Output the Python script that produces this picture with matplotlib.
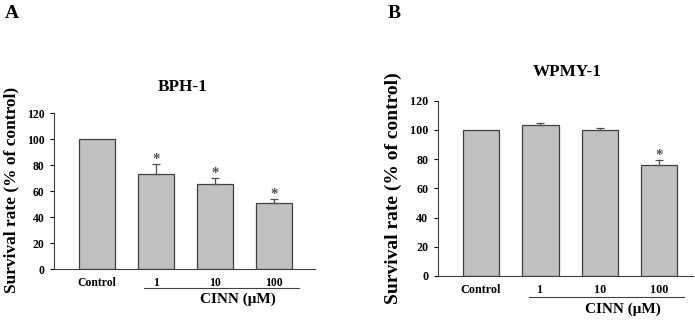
import matplotlib
matplotlib.use("Agg")
import matplotlib.pyplot as plt

plt.rcParams['font.family'] = ['Liberation Serif', 'DejaVu Serif']
plt.rcParams['font.weight'] = 'bold'

categories = ["Control", "1", "10", "100"]
bph_values = [100, 73.3, 65.6, 50.5]
bph_errors = [0, 7.5, 4.4, 3.5]
bph_sig = [False, True, True, True]
wpmy_values = [100, 103.6, 100.1, 76.2]
wpmy_errors = [0, 1.1, 1.4, 3.2]
wpmy_sig = [False, False, False, True]
yticks = [0, 20, 40, 60, 80, 100, 120]

fig = plt.figure(figsize=(6.95, 3.2), dpi=100)

def panel(rect, values, errors, sig, title, xlim, tfs, lab_fs, lab_x, title_xy, line_y, lab_y):
    ax = fig.add_axes(rect)
    x = list(range(len(categories)))
    ax.bar(x, values, width=0.61, color='#c0c0c0', edgecolor='#404040', linewidth=0.9, zorder=2)
    for xi, v, e, s in zip(x, values, errors, sig):
        if e > 0:
            ax.errorbar(xi, v, yerr=[[0], [e]], fmt='none', ecolor='#505050',
                        elinewidth=0.9, capsize=3, capthick=0.9, zorder=3)
        if s:
            ax.annotate('*', (xi, v + e), xytext=(0, 0.6), textcoords='offset points',
                        ha='center', va='baseline', fontsize=10.5,
                        color='#505050', fontweight='bold')
    ax.set_xlim(*xlim)
    ax.set_ylim(0, 120)
    ax.set_yticks(yticks)
    ax.set_xticks(x)
    ax.set_xticklabels(categories, fontsize=tfs, fontweight='bold')
    ax.tick_params(axis='x', length=0, pad=6)
    ax.tick_params(axis='y', length=3, width=0.8, labelsize=tfs, pad=4, direction='out')
    for lab in ax.get_yticklabels():
        lab.set_fontweight('bold')
    for sp in ['top', 'right']:
        ax.spines[sp].set_visible(False)
    for sp in ['left', 'bottom']:
        ax.spines[sp].set_linewidth(0.8)
        ax.spines[sp].set_color('#404040')
    # CINN bracket line
    ax.plot([0.8, 3.42], [line_y, line_y], color='#404040', lw=0.8, clip_on=False)
    ax.text(2.39, lab_y, 'CINN (μM)', ha='center', va='center', fontsize=11,
            fontweight='bold')
    fig.text(title_xy[0], title_xy[1], title, ha='center', va='center', fontsize=12.3,
             fontweight='bold')
    fig.text(lab_x[0], lab_x[1], 'Survival rate (% of control)', rotation=90,
             ha='center', va='center', fontsize=lab_fs, fontweight='bold')
    return ax

panel([54/695, 1-269/320, 261/695, 156/320], bph_values, bph_errors, bph_sig, 'BPH-1',
      (-0.73, 3.69), 8.4, 12.5, (11/695, 1-190/320), (183/695, 1-87/320), -14.6, -23.5)
panel([438/695, 1-276/320, 255/695, 175.3/320], wpmy_values, wpmy_errors, wpmy_sig, 'WPMY-1',
      (-0.725, 3.57), 8.7, 14, (393/695, 1-188/320), (567/695, 1-72/320), -14.2, -22.8)

fig.text(12/695, 1-13/320, 'A', ha='center', va='center', fontsize=14, fontweight='bold')
fig.text(394/695, 1-13/320, 'B', ha='center', va='center', fontsize=14, fontweight='bold')

fig.savefig('out.png', dpi=100)
